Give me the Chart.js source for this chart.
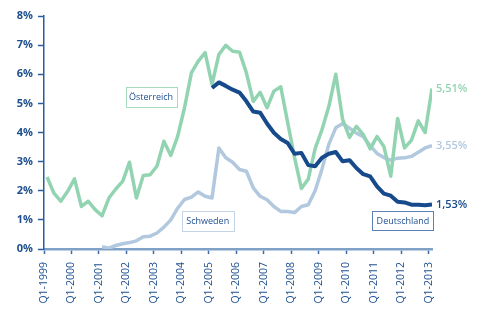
<!DOCTYPE html>
<html>
<head>
<meta charset="utf-8">
<script src="https://cdn.jsdelivr.net/npm/chart.js@4/dist/chart.umd.min.js"></script>
<style>
html,body{margin:0;padding:0;background:#fff;}
#wrap{width:483px;height:328px;position:relative;}
</style>
</head>
<body>
<div id="wrap"><canvas id="c" width="483" height="328"></canvas></div>
<script>
// Tick labels (one per year, Q1)
const tickLabels = ['Q1-1999','Q1-2000','Q1-2001','Q1-2002','Q1-2003','Q1-2004','Q1-2005','Q1-2006','Q1-2007','Q1-2008','Q1-2009','Q1-2010','Q1-2011','Q1-2012','Q1-2013'];
const yTicks = [0,1,2,3,4,5,6,7,8];

// Quarterly values, Q1-1999 .. Q1-2013 (57 quarters), in %
const oesterreich = [2.47,1.92,1.64,1.98,2.41,1.46,1.64,1.35,1.14,1.75,2.06,2.32,2.98,1.75,2.52,2.55,2.85,3.70,3.21,3.87,4.85,6.05,6.45,6.74,5.65,6.68,6.99,6.79,6.76,6.05,5.07,5.38,4.85,5.42,5.57,4.35,3.15,2.08,2.40,3.45,4.10,4.90,6.00,4.45,3.83,4.21,3.93,3.44,3.86,3.52,2.50,4.48,3.47,3.73,4.40,4.00,5.51];
const schweden = [null,null,null,null,null,null,null,null,0.08,0.03,0.12,0.18,0.22,0.28,0.42,0.44,0.55,0.75,1.00,1.40,1.70,1.78,1.96,1.81,1.75,3.47,3.13,2.98,2.73,2.67,2.10,1.81,1.69,1.46,1.29,1.29,1.25,1.46,1.52,2.00,2.75,3.60,4.16,4.31,4.15,3.98,3.86,3.55,3.28,3.14,3.05,3.12,3.13,3.18,3.32,3.47,3.55];
const deutschland = [null,null,null,null,null,null,null,null,null,null,null,null,null,null,null,null,null,null,null,null,null,null,null,null,5.53,5.72,5.60,5.47,5.37,5.07,4.72,4.68,4.31,3.99,3.78,3.64,3.27,3.30,2.88,2.84,3.13,3.27,3.33,3.01,3.05,2.78,2.57,2.49,2.15,1.90,1.83,1.62,1.60,1.52,1.52,1.50,1.53];
const endLabels = ['5,51%','3,55%','1,53%'];
const seriesNames = ['Österreich','Schweden','Deutschland'];

const C_GREEN = '#92d4b1';
const C_LIGHT = '#b2c8df';
const C_DARK = '#164a8b';
const C_TEXT = '#1d4f8f';

function toXY(arr){ return arr.map((v,i)=>({x:i,y:v})); }

const X_MIN = -0.44, X_MAX = 56.0;

const labelPlugin = {
  id:'labels',
  afterDatasetsDraw(chart){
    const ctx = chart.ctx;
    const xs = chart.scales.x, ys = chart.scales.y;
    const sets = [oesterreich, schweden, deutschland];
    const cols = [C_GREEN, C_LIGHT, C_DARK];
    ctx.save();
    ctx.font = '600 11px "Open Sans", "Noto Sans", sans-serif';
    ctx.textBaseline = 'middle';
    ctx.textAlign = 'left';
    sets.forEach((s,k)=>{
      const last = s.length-1;
      ctx.fillStyle = cols[k];
      ctx.fillText(endLabels[k], xs.getPixelForValue(last)+4, ys.getPixelForValue(s[last]));
    });
    const boxes = [
      {t:seriesNames[0], x:15.13, y:5.22, w:51, h:20, c:'#a8dcc0'},
      {t:seriesNames[1], x:23.38, y:0.95, w:52, h:20, c:'#c3d4e6'},
      {t:seriesNames[2], x:51.78, y:0.97, w:61, h:19, c:'#5a82b5'}
    ];
    ctx.font = '9px "Open Sans", "Noto Sans", sans-serif';
    ctx.textAlign = 'center';
    boxes.forEach(b=>{
      const cx = xs.getPixelForValue(b.x), cy = ys.getPixelForValue(b.y);
      const l = Math.round(cx-b.w/2)+0.5, t = Math.round(cy-b.h/2)+0.5;
      ctx.fillStyle = '#fff';
      ctx.fillRect(l,t,b.w,b.h);
      ctx.strokeStyle = b.c;
      ctx.lineWidth = 1;
      ctx.strokeRect(l,t,b.w,b.h);
      ctx.fillStyle = C_TEXT;
      ctx.fillText(b.t, cx, cy+0.5);
    });
    ctx.restore();
  }
};

new Chart(document.getElementById('c'), {
  type:'line',
  data:{
    datasets:[
      {label:seriesNames[2], data:toXY(deutschland), borderColor:C_DARK, borderWidth:4, order:0},
      {label:seriesNames[0], data:toXY(oesterreich), borderColor:C_GREEN, borderWidth:3.5, order:1},
      {label:seriesNames[1], data:toXY(schweden), borderColor:C_LIGHT, borderWidth:3.5, order:2}
    ]
  },
  options:{
    responsive:false,
    animation:false,
    devicePixelRatio:1,
    layout:{padding:{top:16, right:51, left:0, bottom:0}},
    elements:{
      point:{radius:0, hoverRadius:0},
      line:{tension:0, borderJoinStyle:'round', borderCapStyle:'butt', fill:false}
    },
    plugins:{legend:{display:false}, tooltip:{enabled:false}},
    scales:{
      x:{
        type:'linear', min:X_MIN, max:X_MAX,
        afterBuildTicks(scale){ scale.ticks = tickLabels.map((l,i)=>({value:X_MIN+4*i})); },
        afterFit(scale){ scale.height = 79; },
        ticks:{
          autoSkip:false, maxRotation:90, minRotation:90, padding:8,
          color:C_TEXT,
          font:{family:'"Open Sans", "Noto Sans", sans-serif', size:10.5},
          callback:(v,i)=>tickLabels[i]
        },
        grid:{drawOnChartArea:false, drawTicks:true, tickLength:5, tickColor:'#3f6aa3', tickWidth:1.5},
        border:{display:true, color:'#7fa1c7', width:2.5}
      },
      y:{
        min:0, max:8,
        afterBuildTicks(scale){ scale.ticks = yTicks.map(v=>({value:v})); },
        afterFit(scale){ scale.width = 44; },
        ticks:{
          padding:5, color:C_TEXT,
          font:{family:'"Open Sans", "Noto Sans", sans-serif', size:11, weight:'bold'},
          callback:v=>v+'%'
        },
        grid:{drawOnChartArea:false, drawTicks:true, tickLength:6, tickColor:'#2a5da0', tickWidth:1.5},
        border:{display:true, color:'#2a5da0', width:1.5}
      }
    }
  },
  plugins:[labelPlugin]
});
</script>
</body>
</html>
